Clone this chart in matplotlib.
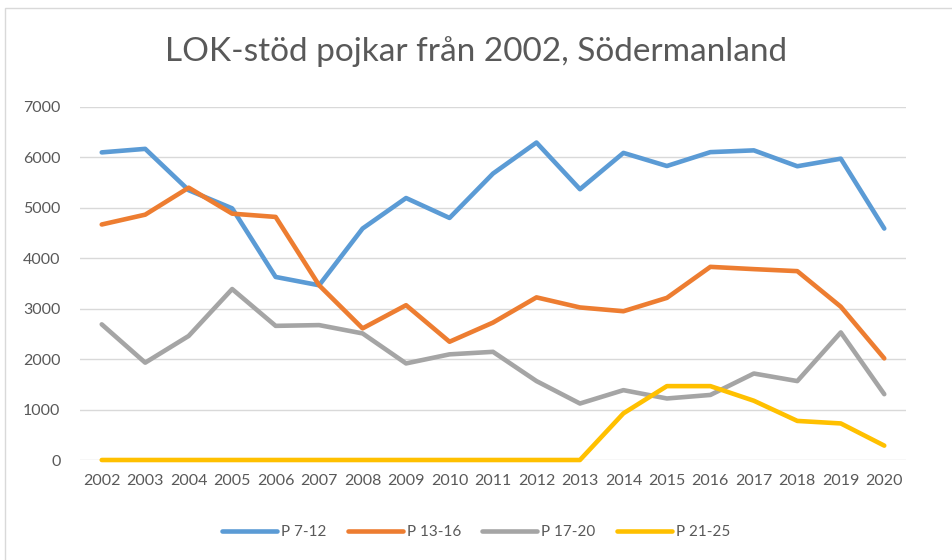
import numpy as np
import matplotlib
matplotlib.use("Agg")
import matplotlib.pyplot as plt
from matplotlib.patches import Rectangle

# Data
years = [str(y) for y in range(2002, 2021)]
p7_12 = [6100, 6170, 5350, 4990, 3630, 3465, 4590, 5195, 4800, 5680, 6295, 5370,
         6090, 5830, 6105, 6140, 5825, 5975, 4590]
p13_16 = [4670, 4865, 5400, 4885, 4820, 3465, 2610, 3070, 2345, 2725, 3225, 3025,
          2950, 3215, 3830, 3785, 3745, 3040, 2015]
p17_20 = [2690, 1930, 2460, 3390, 2660, 2675, 2510, 1915, 2095, 2145, 1565, 1120,
          1385, 1220, 1290, 1715, 1565, 2530, 1305]
p21_25 = [0, 0, 0, 0, 0, 0, 0, 0, 0, 0, 0, 0,
          925, 1465, 1465, 1175, 775, 725, 285]
series_names = ["P 7-12", "P 13-16", "P 17-20", "P 21-25"]
series_colors = ["#5B9BD5", "#ED7D31", "#A5A5A5", "#FFC000"]
title = "LOK-stöd pojkar från 2002, Södermanland"

plt.rcParams['font.family'] = ['Lato', 'DejaVu Sans']
text_color = "#595959"

fig = plt.figure(figsize=(9.52, 5.6), dpi=100)
ax = fig.add_axes([80 / 952, 1 - 460 / 560, 826 / 952, 353 / 560])

x = np.arange(len(years))
for vals, name, col in zip([p7_12, p13_16, p17_20, p21_25], series_names, series_colors):
    ax.plot(x, vals, color=col, lw=3.3, label=name, solid_capstyle='round',
            solid_joinstyle='round', zorder=3, clip_on=False)

ax.set_xlim(-0.5, len(years) - 0.5)
ax.set_ylim(0, 7000)
ax.set_yticks(range(0, 7001, 1000))
ax.set_xticks(x)
ax.set_xticklabels(years)
ax.grid(axis='y', color='#D9D9D9', lw=1.0, zorder=0)
ax.tick_params(length=0, colors=text_color, labelsize=11.5)
ax.tick_params(axis='x', pad=10)
ax.tick_params(axis='y', pad=14)
for s in ax.spines.values():
    s.set_visible(False)

fig.text(0.5, 1 - 52 / 560, title, ha='center', va='center', fontsize=24,
         color=text_color)

fig.legend(loc='center', bbox_to_anchor=(0.5, 1 - 532 / 560), ncol=4, frameon=False,
           handlelength=3.6, handletextpad=0.25, columnspacing=1.4, fontsize=11,
           labelcolor=text_color)

# light outer frame of the chart area
fig.add_artist(Rectangle((4.5 / 952, -0.1), 1.2, 1.1 - 7.5 / 560, transform=fig.transFigure,
                         fill=False, edgecolor='#D9D9D9', lw=1.0))

fig.savefig("out.png", dpi=100)
